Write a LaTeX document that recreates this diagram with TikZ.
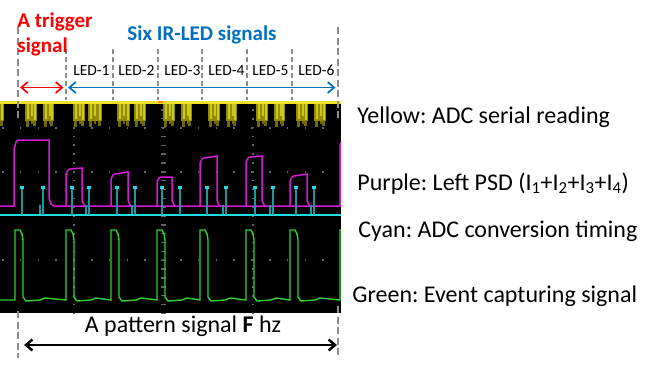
\documentclass[tikz,border=0pt]{standalone}
\usepackage{fontspec}
\setmainfont{Carlito}
\usetikzlibrary{calc,arrows.meta}
\frenchspacing

\definecolor{scopeyellow}{RGB}{235,225,40}
\definecolor{readyellow}{RGB}{145,140,0}
\definecolor{readbright}{RGB}{205,200,25}
\definecolor{readdark}{RGB}{110,105,0}
\definecolor{psdpurple}{RGB}{215,25,215}
\definecolor{adccyan}{RGB}{30,220,225}
\definecolor{adcteal}{RGB}{30,150,160}
\definecolor{eventgreen}{RGB}{45,210,45}
\definecolor{gridgray}{RGB}{100,100,100}
\definecolor{markgray}{RGB}{140,140,140}
\definecolor{ledblue}{RGB}{0,112,192}
\definecolor{trigred}{RGB}{255,0,0}
\definecolor{trigorange}{RGB}{255,130,0}

\begin{document}
\begin{tikzpicture}[x=1pt, y=-1pt, thick,
        bigtext/.style={font=\fontsize{24}{29}\selectfont, inner sep=0pt},
        ledtext/.style={font=\fontsize{15.5}{18}\selectfont, inner sep=0pt},
        headtext/.style={font=\bfseries\fontsize{21}{25}\selectfont, inner sep=0pt},
        marker/.style={draw=markgray, line width=2pt, dash pattern=on 7pt off 3.5pt},
        thinmarker/.style={draw=markgray, line width=1.4pt, dash pattern=on 5pt off 3pt},
        span/.style={line width=1.7pt, {Straight Barb[length=6.5pt,width=11pt]}-{Straight Barb[length=6.5pt,width=11pt]}}]
        \useasboundingbox (0,0) rectangle (661,365);

        % 示波器屏幕
        \fill[black] (0,101) rectangle (341,313);
        \begin{scope}
            \clip (0,101) rectangle (341,313);
            % 网格点
            \foreach \gy in {128,172,260}
                \foreach \k in {-4,...,14}
                    \fill[gridgray] (74+17.8*\k-0.8,\gy-0.8) rectangle ++(1.6,1.6);
            \foreach \gx in {74,253}
                \foreach \k in {0,...,24}
                    \fill[gridgray] (\gx-0.8,101+8.85*\k-0.8) rectangle ++(1.6,1.6);
            % 中心刻度
            \foreach \k in {0,...,24}
                \fill[gridgray] (160.5,101+8.85*\k-0.7) rectangle ++(5,1.4);

            % 黄色: ADC 串行读数
            \fill[scopeyellow] (0,101) rectangle (341,104);
            \foreach \a/\b in {-8/4,25/37,43/54,73/85,88/102,117/130,134/146,163/175,181/192,208/220,226/237,256/268,274/285,296/308,314/326}{
                \fill[readyellow] (\a,104) rectangle (\b,121);
                \fill[readbright] (\a+1.5,104) rectangle (\a+3.5,119);
                \fill[readbright] (\a+6,104) rectangle (\a+8,116);
                \fill[readbright] (\b-3.5,104) rectangle (\b-1.5,120);
                \fill[readdark] (\a+1,121) rectangle (\a+4,127);
                \fill[readdark] (\a+6,121) rectangle (\a+8,124);
                \fill[readdark] (\b-4,121) rectangle (\b-1,126);
            }
            \fill[trigorange] (157.5,101) rectangle (162.5,103);

            % 紫色: 左 PSD
            \draw[psdpurple, line width=1.5pt] (0,206) -- (14,206) -- (14,150) -- (16,142) -- (18,140) -- (49,140) -- (49,198) -- (51,204) -- (54,206) -- (341,206);
            \foreach \s/\e/\hl/\hr in {66/82/169/168, 111/128/174/172, 157/172/177/177, 200/217/158/156, 246/262/157/156, 290/307/176/174, 340/350/140/140}
                \draw[psdpurple, line width=1.5pt] (\s,206) -- (\s,\hl+5) -- (\s+2,\hl+1) -- (\s+4,\hl) -- (\e,\hr) -- (\e,200) -- (\e+2,205) -- (\e+4,206);

            % 青色: ADC 转换时序
            \draw[adccyan, line width=1.8pt] (0,215) -- (341,215);
            \foreach \p in {22,43,72,89,117,135,162,180,207,226,255,273,296,314}{
                \fill[adcteal] (\p-1.4,215) rectangle (\p+1.4,187);
                \fill[adccyan] (\p-2.3,185.5) rectangle (\p+2.3,188.5);
            }
            \foreach \p in {40,86,132,223,270,311}
                \fill[adcteal] (\p-0.9,214) rectangle (\p+0.9,205);

            % 绿色: 事件捕获信号
            \draw[eventgreen, line width=1.4pt] (0,300)
                foreach \s in {15,66,111,157,200,246,290,340}{
                    -- (\s,300) -- (\s,230) -- (\s+5,230) -- (\s+7,234) -- (\s+8,240) -- (\s+8,297) -- (\s+11,301) -- (\s+25,300) -- (\s+30,298)
                };
        \end{scope}

        % 分段虚线
        \coordinate (m0top) at (18,27);   \coordinate (m0bot) at (18,118);
        \coordinate (m7top) at (338,27);  \coordinate (m7bot) at (338,118);
        \draw[marker] (m0top) -- (m0bot);
        \draw[marker] (m7top) -- (m7bot);
        \foreach \i/\mx in {1/66,2/113,3/158,4/202,5/247,6/292}{
            \coordinate (m\i top) at (\mx,49);
            \coordinate (m\i bot) at (\mx,100);
            \draw[thinmarker] (m\i top) -- (m\i bot);
        }

        % 触发信号与六路 LED 信号
        \node[headtext, text=trigred, anchor=base west] (trigger) at (17,27) {A trigger};
        \node[headtext, text=trigred, anchor=base west] (triggersig) at (17,52) {signal};
        \node[headtext, text=ledblue, anchor=base] (sixled) at (202,40) {Six IR-LED signals};
        \foreach \i/\cx in {1/91.5,2/136.5,3/182.5,4/226.5,5/270.5,6/316.5}
            \node[ledtext, anchor=base] (led\i) at (\cx,75) {LED-\i};

        \coordinate (redl) at (20,87.5);
        \coordinate (redr) at (63.5,87.5);
        \coordinate (bluel) at (68,87.5);
        \coordinate (bluer) at (335.5,87.5);
        \draw[span, trigred] (redl) -- (redr);
        \draw[span, ledblue] (bluel) -- (bluer);

        % 模式信号周期
        \coordinate (p0top) at (18,311);  \coordinate (p0bot) at (18,358);
        \coordinate (p1top) at (338,306); \coordinate (p1bot) at (338,358);
        \draw[marker] (p0top) -- (p0bot);
        \draw[marker] (p1top) -- (p1bot);
        \coordinate (patl) at (24,345);
        \coordinate (patr) at (337,345);
        \draw[span, black, line width=2.5pt] (patl) -- (patr);
        \node[bigtext, anchor=base] (pattern) at (183,332) {A pattern signal \textbf{F} hz};

        % 通道说明
        \node[bigtext, anchor=base west] (yellowlbl) at (357,123) {Yellow: ADC serial reading};
        \node[bigtext, anchor=base west] (purplelbl) at (357,190) {Purple: Left PSD (I\textsubscript{1}+I\textsubscript{2}+I\textsubscript{3}+I\textsubscript{4})};
        \node[bigtext, anchor=base west] (cyanlbl) at (358,237) {Cyan: ADC conversion timing};
        \node[bigtext, anchor=base west] (greenlbl) at (352,302) {Green: Event capturing signal};
    \end{tikzpicture}
\end{document}
